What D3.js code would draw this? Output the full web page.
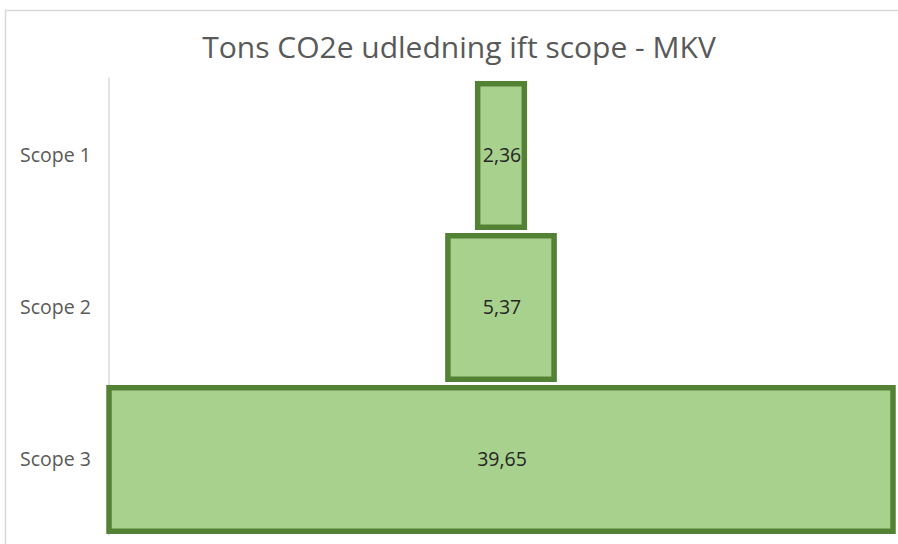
<html>
<head>
  <meta charset="utf-8">
  <script src="https://d3js.org/d3.v7.min.js"></script>
  <style>
    body { margin: 0; background: #fff; }
  </style>
</head>
<body>
  <svg id="chart" width="898" height="544"></svg>
  <script>
    // funnel data
    var categories = ["Scope 1", "Scope 2", "Scope 3"];
    var values = [2.36, 5.37, 39.65];
    var valueLabels = ["2,36", "5,37", "39,65"];
    var title = "Tons CO2e udledning ift scope - MKV";

    var svg = d3.select("#chart");
    var font = "'Open Sans', 'Noto Sans', sans-serif";

    // chart frame (light gray border)
    svg.append("rect")
        .attr("x", 5.5).attr("y", 10.5)
        .attr("width", 898).attr("height", 560)
        .attr("fill", "#fff")
        .attr("stroke", "#d9d9d9")
        .attr("stroke-width", 1.5);

    var plot = {left: 109, right: 893, top: 79.5, bottom: 535.5};
    var cx = (plot.left + plot.right) / 2;

    var x = d3.scaleLinear()
        .domain([0, d3.max(values)])
        .range([0, plot.right - plot.left]);

    var y = d3.scaleBand()
        .domain(categories)
        .range([plot.top, plot.bottom])
        .paddingInner(0.056)
        .paddingOuter(0.028);

    // title
    svg.append("text")
        .attr("x", 459).attr("y", 58)
        .attr("text-anchor", "middle")
        .attr("font-family", font)
        .attr("font-size", 30)
        .attr("fill", "#595959")
        .text(title);

    // category axis (line only, labels drawn by hand further left)
    var yAxis = svg.append("g")
        .attr("transform", "translate(" + plot.left + ",0)")
        .call(d3.axisLeft(y).tickSize(0).tickPadding(0).tickFormat(""));
    yAxis.select(".domain")
        .attr("d", "M0," + (plot.top - 2) + "V" + plot.bottom)
        .attr("stroke", "#d9d9d9")
        .attr("stroke-width", 1.5);

    svg.selectAll(".cat")
      .data(categories)
      .enter().append("text")
        .attr("class", "cat")
        .attr("x", 20)
        .attr("y", d => y(d) + y.bandwidth() / 2)
        .attr("dy", "0.35em")
        .attr("font-family", font)
        .attr("font-size", 19.5)
        .attr("fill", "#595959")
        .text(d => d);

    // bars centered on the plot
    svg.selectAll(".bar")
      .data(values)
      .enter().append("rect")
        .attr("class", "bar")
        .attr("x", d => cx - x(d) / 2)
        .attr("y", (d, i) => y(categories[i]))
        .attr("width", d => x(d))
        .attr("height", y.bandwidth())
        .attr("fill", "#a9d18e")
        .attr("stroke", "#548235")
        .attr("stroke-width", 5.5);

    svg.selectAll(".val")
      .data(values)
      .enter().append("text")
        .attr("class", "val")
        .attr("x", cx + 1)
        .attr("y", (d, i) => y(categories[i]) + y.bandwidth() / 2)
        .attr("dy", "0.35em")
        .attr("text-anchor", "middle")
        .attr("font-family", font)
        .attr("font-size", 19.5)
        .attr("fill", "#262626")
        .text((d, i) => valueLabels[i]);
  </script>
</body>
</html>
